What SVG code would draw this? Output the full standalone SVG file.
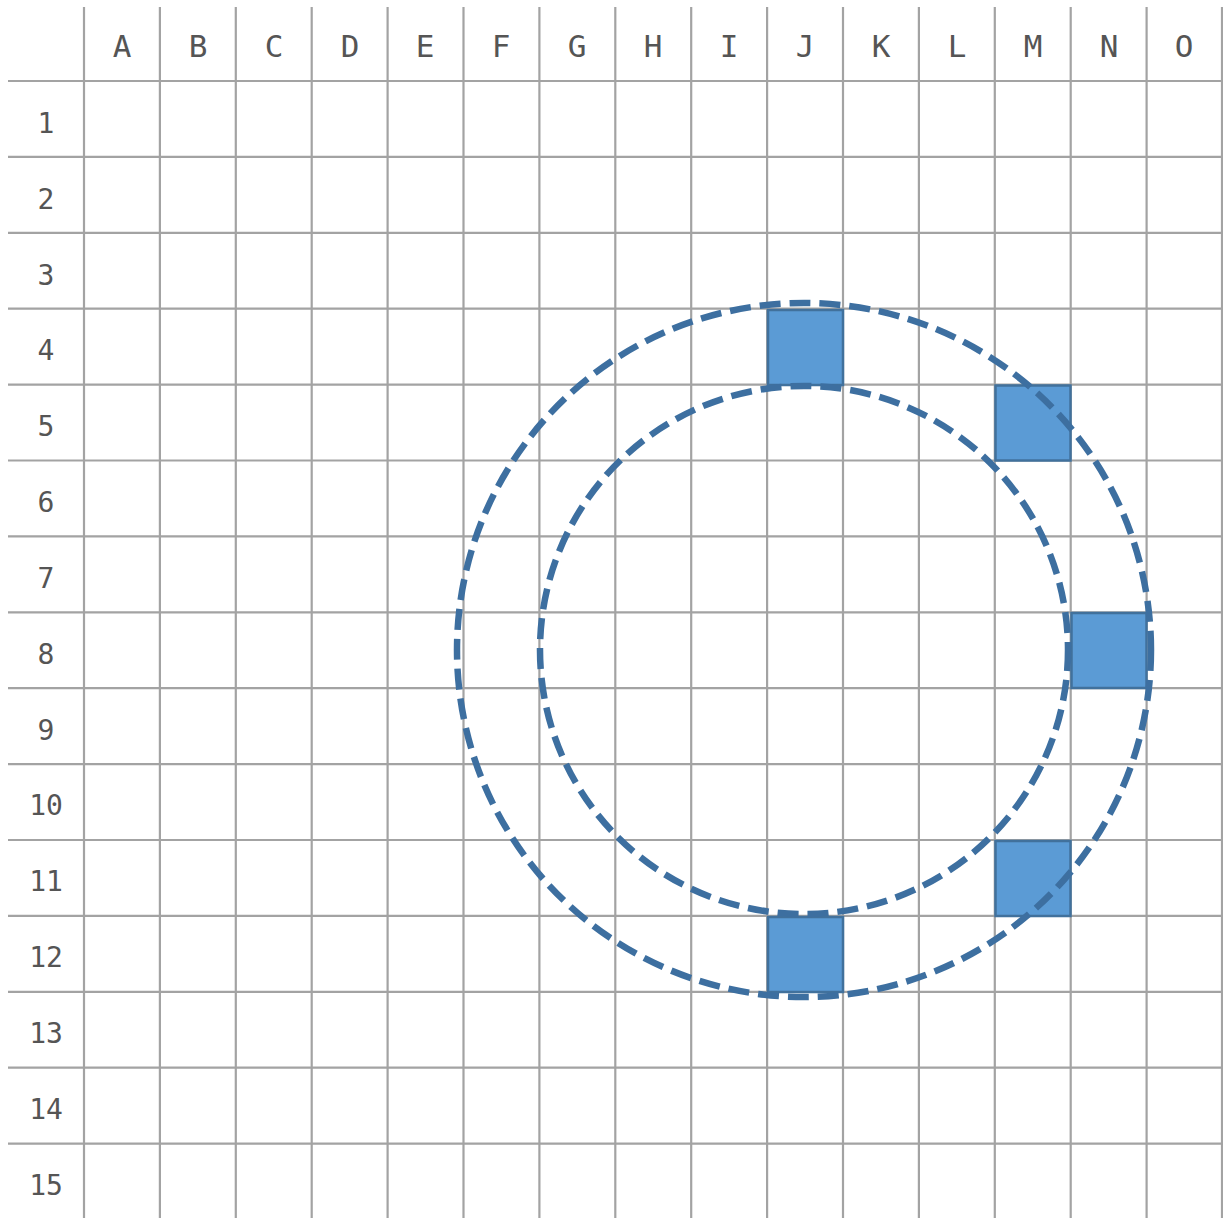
<svg xmlns="http://www.w3.org/2000/svg" width="1223" height="1218" viewBox="0 0 1223 1218">
<style>
.g{stroke:#a3a3a3;stroke-width:2.2;fill:none}
.col{font-family:"DejaVu Sans Mono",monospace;font-size:31px;fill:#555555;text-anchor:middle}
.row{font-family:"DejaVu Sans Mono",monospace;font-size:28px;fill:#555555;text-anchor:middle}
.sq{fill:#5b9bd5;stroke:#41719c;stroke-width:2.5}
.ring{fill:none;stroke:#3d6fa0;stroke-width:6.5;stroke-dasharray:21 9}
</style>
<rect width="1223" height="1218" fill="#ffffff"/>
<g id="grid">
<path class="g" d="M84 7V1218M159.9 7V1218M235.8 7V1218M311.7 7V1218M387.6 7V1218M463.5 7V1218M539.4 7V1218M615.3 7V1218M691.2 7V1218M767.1 7V1218M843 7V1218M918.9 7V1218M994.8 7V1218M1070.7 7V1218M1146.6 7V1218M1222 7V1218"/>
<path class="g" d="M8 81H1223M8 156.9H1223M8 232.8H1223M8 308.7H1223M8 384.6H1223M8 460.5H1223M8 536.4H1223M8 612.3H1223M8 688.2H1223M8 764.1H1223M8 840H1223M8 915.9H1223M8 991.8H1223M8 1067.7H1223M8 1143.6H1223"/>
</g>
<g id="col-labels">
<text class="col" x="122" y="57">A</text>
<text class="col" x="198" y="57">B</text>
<text class="col" x="274" y="57">C</text>
<text class="col" x="350" y="57">D</text>
<text class="col" x="425" y="57">E</text>
<text class="col" x="501" y="57">F</text>
<text class="col" x="577" y="57">G</text>
<text class="col" x="653" y="57">H</text>
<text class="col" x="729" y="57">I</text>
<text class="col" x="805" y="57">J</text>
<text class="col" x="881" y="57">K</text>
<text class="col" x="957" y="57">L</text>
<text class="col" x="1033" y="57">M</text>
<text class="col" x="1109" y="57">N</text>
<text class="col" x="1184" y="57">O</text>
</g>
<g id="row-labels">
<text class="row" x="46" y="133">1</text>
<text class="row" x="46" y="209">2</text>
<text class="row" x="46" y="285">3</text>
<text class="row" x="46" y="360">4</text>
<text class="row" x="46" y="436">5</text>
<text class="row" x="46" y="512">6</text>
<text class="row" x="46" y="588">7</text>
<text class="row" x="46" y="664">8</text>
<text class="row" x="46" y="740">9</text>
<text class="row" x="46" y="815">10</text>
<text class="row" x="46" y="891">11</text>
<text class="row" x="46" y="967">12</text>
<text class="row" x="46" y="1043">13</text>
<text class="row" x="46" y="1119">14</text>
<text class="row" x="46" y="1195">15</text>
</g>
<g id="sq-J4"><rect class="sq" x="768" y="310" width="75" height="75"/></g>
<g id="sq-M5"><rect class="sq" x="995.5" y="385.5" width="75" height="75"/></g>
<g id="sq-N8"><rect class="sq" x="1071.5" y="613" width="75" height="75"/></g>
<g id="sq-M11"><rect class="sq" x="995.5" y="841" width="75" height="75"/></g>
<g id="sq-J12"><rect class="sq" x="768" y="917" width="75" height="75"/></g>
<g id="rings">
<circle class="ring" cx="804" cy="650" r="347"/>
<circle class="ring" cx="804" cy="650" r="264"/>
</g>
</svg>
